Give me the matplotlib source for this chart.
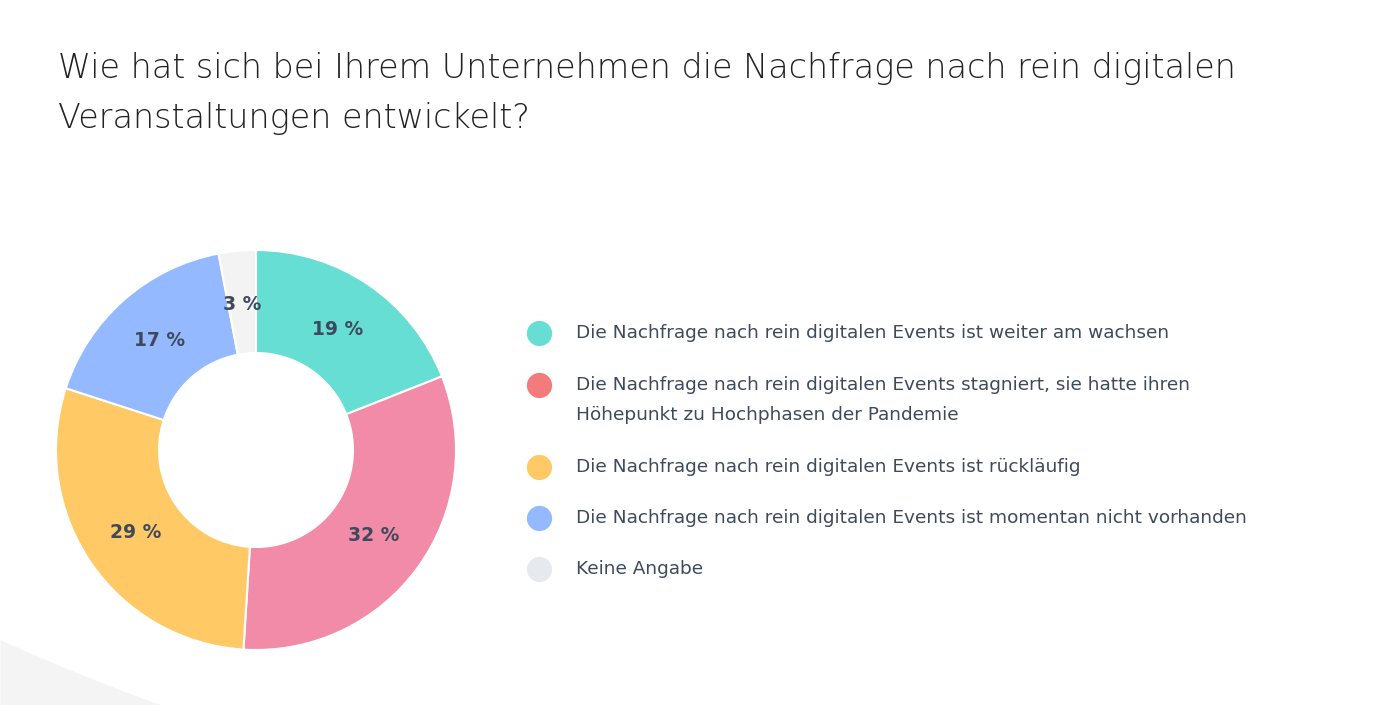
import matplotlib
matplotlib.use("Agg")
import matplotlib.pyplot as plt
import numpy as np

TITLE = "Wie hat sich bei Ihrem Unternehmen die Nachfrage nach rein digitalen\nVeranstaltungen entwickelt?"
SHARES = [19, 32, 29, 17, 3]
SLICE_COLORS = ["#66ded3", "#f28ba8", "#ffc966", "#94b9ff", "#f3f3f3"]
DOT_COLORS = ["#66ded3", "#f47b7b", "#ffc966", "#94b9ff", "#e6eaee"]
LEGEND = [
    "Die Nachfrage nach rein digitalen Events ist weiter am wachsen",
    "Die Nachfrage nach rein digitalen Events stagniert, sie hatte ihren\nHöhepunkt zu Hochphasen der Pandemie",
    "Die Nachfrage nach rein digitalen Events ist rückläufig",
    "Die Nachfrage nach rein digitalen Events ist momentan nicht vorhanden",
    "Keine Angabe",
]
LEGEND_Y = [333, 400, 467, 518, 569]

W, H = 1395, 705
fig = plt.figure(figsize=(W / 100, H / 100), dpi=100)
ax = fig.add_axes([0, 0, 1, 1])
ax.set_xlim(0, W)
ax.set_ylim(0, H)
ax.set_aspect("equal")
ax.axis("off")

# faint background arc bottom-left
cx, cy, r = 900, H + 1346, 2180
xs = np.linspace(0, 200, 100)
ys = cy - np.sqrt(np.maximum(r**2 - (xs - cx) ** 2, 0))
ax.fill_between(xs, 0, ys, where=ys > 0, color="#f4f4f4", zorder=0, lw=0)

ax.pie(SHARES, colors=SLICE_COLORS, startangle=90, counterclock=False,
       center=(256, H - 450), radius=200, frame=True,
       wedgeprops=dict(width=103, edgecolor="white", linewidth=1.5),
       autopct=lambda p: f"{p:.0f} %", pctdistance=0.73,
       textprops=dict(fontsize=13.5, fontweight="bold", color="#3e4a5c", family="DejaVu Sans"))
ax.set_xlim(0, W)
ax.set_ylim(0, H)
ax.axis("off")

ax.text(58, H - 52, TITLE, fontsize=24, color="#222222", family="DejaVu Sans",
        fontweight="light", va="top", ha="left", linespacing=1.65)

for y, lab, c in zip(LEGEND_Y, LEGEND, DOT_COLORS):
    ax.scatter([539], [H - y if "\n" not in lab else H - 385], s=330, color=c, lw=0)
    ax.text(576, H - y, lab, fontsize=13.3, color="#3e4a5c", family="DejaVu Sans",
            va="center", ha="left", linespacing=1.8)

fig.savefig("out.png", dpi=100)
